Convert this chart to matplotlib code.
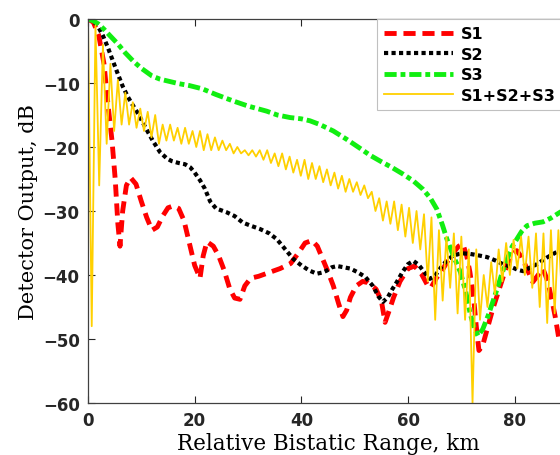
import numpy as np
import matplotlib
matplotlib.use("Agg")
import matplotlib.pyplot as plt

# S1 (red, dashed)
s1_x = [0, 1, 2, 3, 3.7, 4.5, 5.1, 5.6, 6, 6.5, 7.2, 8, 9, 10, 11, 12, 13, 14, 15, 16,
        17, 18, 19, 20, 21, 21.6, 22.3, 23.5, 24.5, 25.5, 26.6, 27.5, 28.5, 29.4, 30.5,
        32, 34, 36, 38, 39.5, 40.7, 42, 43, 44, 45, 46, 47, 47.8, 48.5, 49.2, 50.3, 51.5,
        52.5, 54, 55, 55.7, 56.5, 57.3, 58.5, 60, 61.2, 62.5, 63.6, 64.3, 65.3, 66.6, 68,
        69.5, 70.3, 71, 71.6, 72.3, 72.8, 73.3, 74, 75, 75.9, 77.3, 78.5, 79.5, 80.4, 81.3,
        82.3, 83.4, 84.4, 85.3, 86.2, 87, 87.6, 88.3, 89, 90]
s1_y = [0, -0.5, -2.5, -7, -13, -19, -25, -32, -35.5, -30, -26, -24.8, -25.8, -28.5, -31,
        -33, -32.5, -30.8, -29.5, -29.2, -29.6, -31.5, -35, -38.5, -40.5, -37, -34.8, -35.5,
        -37, -39.2, -42.2, -43.6, -43.8, -41.7, -40.5, -40.2, -39.6, -39, -38.2, -36.5, -35,
        -34.6, -35.5, -37.5, -39.5, -41.7, -44.5, -46.5, -45.5, -43.5, -41.7, -41, -41.2,
        -42.2, -44, -47.4, -45.5, -43.5, -41, -39, -38.6, -39.8, -41.5, -42, -40.5, -39, -37,
        -35.5, -35.2, -37, -39.5, -43.5, -48, -51.8, -51, -48, -45.3, -41.7, -38.6, -36.8,
        -36.2, -37.2, -39, -41.1, -40, -39, -41, -44, -46.5, -50, -51, -48]

# S2 (black, dotted)
s2_x = [0, 1, 1.9, 2.8, 3.7, 4.6, 5.6, 6.5, 7.5, 8.5, 9.4, 10.8, 12.2, 13.5, 14.8, 15.7,
        17, 18.2, 19.2, 20, 21, 21.9, 22.9, 24, 26, 27.5, 29, 30.5, 32.2, 34, 35.4, 37,
        38.5, 40, 41.5, 42.9, 44, 44.8, 45.7, 46.7, 48, 49.2, 50.4, 52, 53.4, 54.5, 55.3,
        56.2, 57, 57.9, 59, 60, 61, 62, 63, 64.1, 65, 66, 67.2, 68.4, 70, 71.6, 73, 74.8,
        76.3, 77.8, 79.5, 80.6, 81.6, 82.5, 84.2, 86, 87.9, 90]
s2_y = [0, -0.3, -1.2, -2.6, -4.4, -6.4, -8.6, -10.5, -12.2, -13.6, -14.8, -17, -19.1,
        -20.8, -21.8, -22.2, -22.5, -22.7, -23.2, -24, -25.2, -26.5, -28.5, -29.6, -30.2,
        -30.8, -31.8, -32.3, -32.8, -33.5, -34.4, -36, -37.5, -38.5, -39.3, -39.8, -39.6,
        -39.3, -38.8, -38.6, -38.8, -39, -39.5, -40.3, -41.7, -43.4, -44.2, -43.5, -42.3,
        -41.1, -39.5, -38.3, -37.8, -38.4, -39.5, -40.6, -40.2, -39, -37.8, -37, -36.6,
        -36.7, -36.9, -37.2, -37.7, -38.3, -38.8, -39.2, -39.4, -39, -38.3, -37.3, -36.4,
        -35.3]

# S3 (green, dash-dot)
s3_x = [0, 1, 2, 3, 4, 5.6, 7, 8.5, 10, 12, 13.5, 15, 17, 19, 21.4, 24, 27.2, 30, 33.5,
        35.5, 37.9, 40, 41.6, 43.5, 46, 48.5, 51, 52.9, 55, 57, 59, 61, 62.8, 64.2, 65.4,
        66.5, 67.3, 68.5, 69.8, 70.8, 71.6, 72.4, 73.1, 74, 75, 75.9, 76.7, 77.6, 78.6,
        79.5, 80.4, 81.3, 82.3, 83.8, 85.3, 86.8, 88.5, 90]
s3_y = [0, -0.3, -0.8, -1.6, -2.5, -3.9, -5.3, -6.6, -7.7, -8.9, -9.4, -9.7, -10.1, -10.4,
        -10.9, -11.8, -12.8, -13.6, -14.4, -15, -15.4, -15.6, -15.9, -16.5, -17.5, -18.8,
        -20.2, -21.3, -22.3, -23.2, -24.2, -25.3, -26.6, -28, -29.7, -32.3, -34.4, -37,
        -39.5, -42.5, -45.8, -48.3, -49.5, -48.5, -46.4, -44.2, -42.2, -39.8, -37.5, -35.6,
        -34.4, -33.2, -32.3, -31.9, -31.7, -31.1, -30.2, -29.5]

# S1+S2+S3 (yellow), sampled every 0.7 km
sum_step = 0.7
sum_y = [0, -48, -1, -26, -4, -19.5, -7, -17.5, -9.5, -16.5, -11.5, -16.5, -13, -17, -14,
         -17.5, -14.5, -18.5, -15, -19.5, -16.5, -19, -16.5, -19, -17, -19.5, -17, -19.5,
         -17.5, -20, -17.5, -20.5, -18, -20.5, -18.5, -20.5, -19, -20.5, -19.5, -21, -20,
         -21, -20.5, -21.3, -20.5, -21.5, -20.5, -22, -20.5, -22.5, -21, -23, -21, -23.5,
         -21.5, -24, -22, -24.5, -22, -25, -22.5, -25, -23, -25.5, -23.5, -26, -24, -26.5,
         -24.5, -27, -25, -27, -25.5, -27.5, -26, -28, -27, -30, -28, -31.5, -28.5, -32,
         -28.5, -33, -29, -34, -29.5, -35, -30, -36, -30.5, -41, -31, -47, -33, -44, -34,
         -42, -33.5, -46, -34, -47, -36, -60, -36, -47, -40, -45, -38, -43, -36, -41, -35,
         -40, -34.5, -39, -34, -40, -34, -42, -33.5, -45, -33.5, -47.5, -33, -46, -33, -44,
         -34, -42]

tick_font = {'family': 'DejaVu Sans', 'weight': 'bold', 'size': 12}
leg_font = {'family': 'DejaVu Sans', 'weight': 'bold', 'size': 11.5}


def main():
    fig = plt.figure(figsize=(5.6, 4.56), dpi=100)
    # axes runs past the right edge of the figure (cropped like the original)
    ax = fig.add_axes([88 / 560, 52 / 456, 480 / 560, 384 / 456])

    sum_x = np.arange(len(sum_y)) * sum_step

    ax.plot(s1_x, s1_y, color='#FF0000', lw=3.5, dashes=(2.5, 1.4), label='S1')
    ax.plot(s2_x, s2_y, color='black', lw=3, dashes=(1, 0.8), label='S2')
    ax.plot(s3_x, s3_y, color='#11EE11', lw=3.5, dashes=(2.5, 0.8, 1, 0.8), label='S3')
    ax.plot(sum_x, sum_y, color='#FFD000', lw=1.3, label='S1+S2+S3')

    ax.set_xlim(0, 90)
    ax.set_ylim(-60, 0)
    ax.set_xticks([0, 20, 40, 60, 80])
    ax.set_yticks([-60, -50, -40, -30, -20, -10, 0])
    ax.tick_params(direction='in', top=True, right=True, length=5, width=0.8,
                   colors='#262626', pad=6)
    for lab in ax.get_xticklabels() + ax.get_yticklabels():
        lab.set_fontproperties(tick_font)
    for sp in ax.spines.values():
        sp.set_color('#404040')
        sp.set_linewidth(0.9)

    ax.set_xlabel('Relative Bistatic Range, km', family='DejaVu Serif', fontsize=15.5,
                  labelpad=2)
    ax.set_ylabel('Detector Output, dB', family='DejaVu Serif', fontsize=15)
    ax.yaxis.set_label_coords(-0.105, 0.5)

    leg = ax.legend(loc='upper left', bbox_to_anchor=(377 / 560, 1 - 20 / 456),
                    bbox_transform=fig.transFigure, prop=leg_font, handlelength=4.3,
                    labelspacing=0.35, borderaxespad=0, fancybox=False,
                    framealpha=1, edgecolor='#C0C0C0', borderpad=0.45, handletextpad=0.5)
    leg.get_frame().set_linewidth(0.8)

    fig.savefig('out.png', dpi=100)


if __name__ == '__main__':
    main()
